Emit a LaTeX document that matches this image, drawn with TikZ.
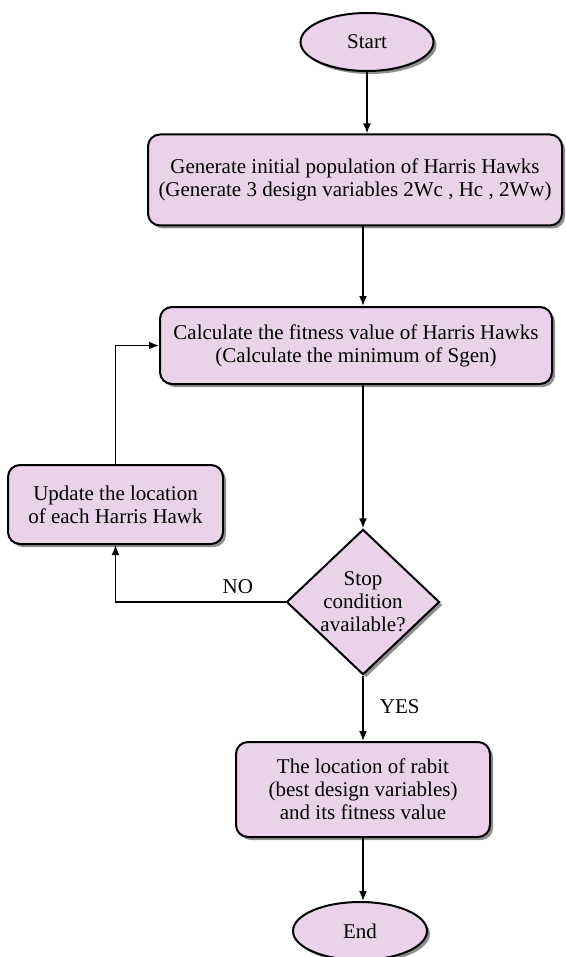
\documentclass[tikz,border=0pt]{standalone}
\usepackage{fontspec}
\setmainfont{Liberation Serif}
\usetikzlibrary{shapes.geometric,shadows,arrows.meta}
\definecolor{hawkfill}{RGB}{234,211,234}
\begin{document}
\begin{tikzpicture}[x=1pt,y=-1pt,line width=1.7pt,>={Latex[length=10pt,width=8pt]}]
\tikzstyle{block}=[draw, fill=hawkfill, line width=2pt, rounded corners=12pt, align=center, inner sep=0pt,
  drop shadow={shadow xshift=3pt, shadow yshift=-3pt, fill=black!80, opacity=0.55}]
\tikzstyle{term}=[block, ellipse, sharp corners]
\tikzstyle{test}=[block, diamond, sharp corners]
\fontsize{21}{23}\selectfont
\useasboundingbox (0,0) rectangle (565,957);

\node [term, minimum width=133pt, minimum height=58pt] (1) at (367,42) {Start};
\node [block, minimum width=414pt, minimum height=91pt] (2) at (355,180)
  {Generate initial population of Harris Hawks\\(Generate 3 design variables 2Wc , Hc , 2Ww)};
\node [block, minimum width=392pt, minimum height=77pt] (3) at (356,345.5)
  {Calculate the fitness value of Harris Hawks\\(Calculate the minimum of Sgen)};
\node [test, minimum width=153pt, minimum height=143pt] (4) at (363,602)
  {Stop\\condition\\available?};
\node [block, minimum width=215pt, minimum height=79pt] (5) at (115.5,504.5)
  {Update the location\\of each Harris Hawk};
\node [block, minimum width=254pt, minimum height=95pt] (6) at (363,789.5)
  {The location of rabit\\(best design variables)\\ and its fitness value};
\node [term, minimum width=134pt, minimum height=58pt] (7) at (360,931) {End};

\draw [->] (1) -- (1 |- 2.north);
\draw [->] (2.south -| 4) -- (3.north -| 4);
\draw [->] (3.south -| 4) -- (4.north);
\draw [->] (4) -- (6);
\draw [->] (6) -- (6 |- 7.north);
\draw [->] (4.west) -| node [pos=0.14, above] {NO} (5.south);
\draw [->] (5.north) |- (3.west);
\node [anchor=west] (8) at (372,707) {YES};
\end{tikzpicture}
\end{document}
